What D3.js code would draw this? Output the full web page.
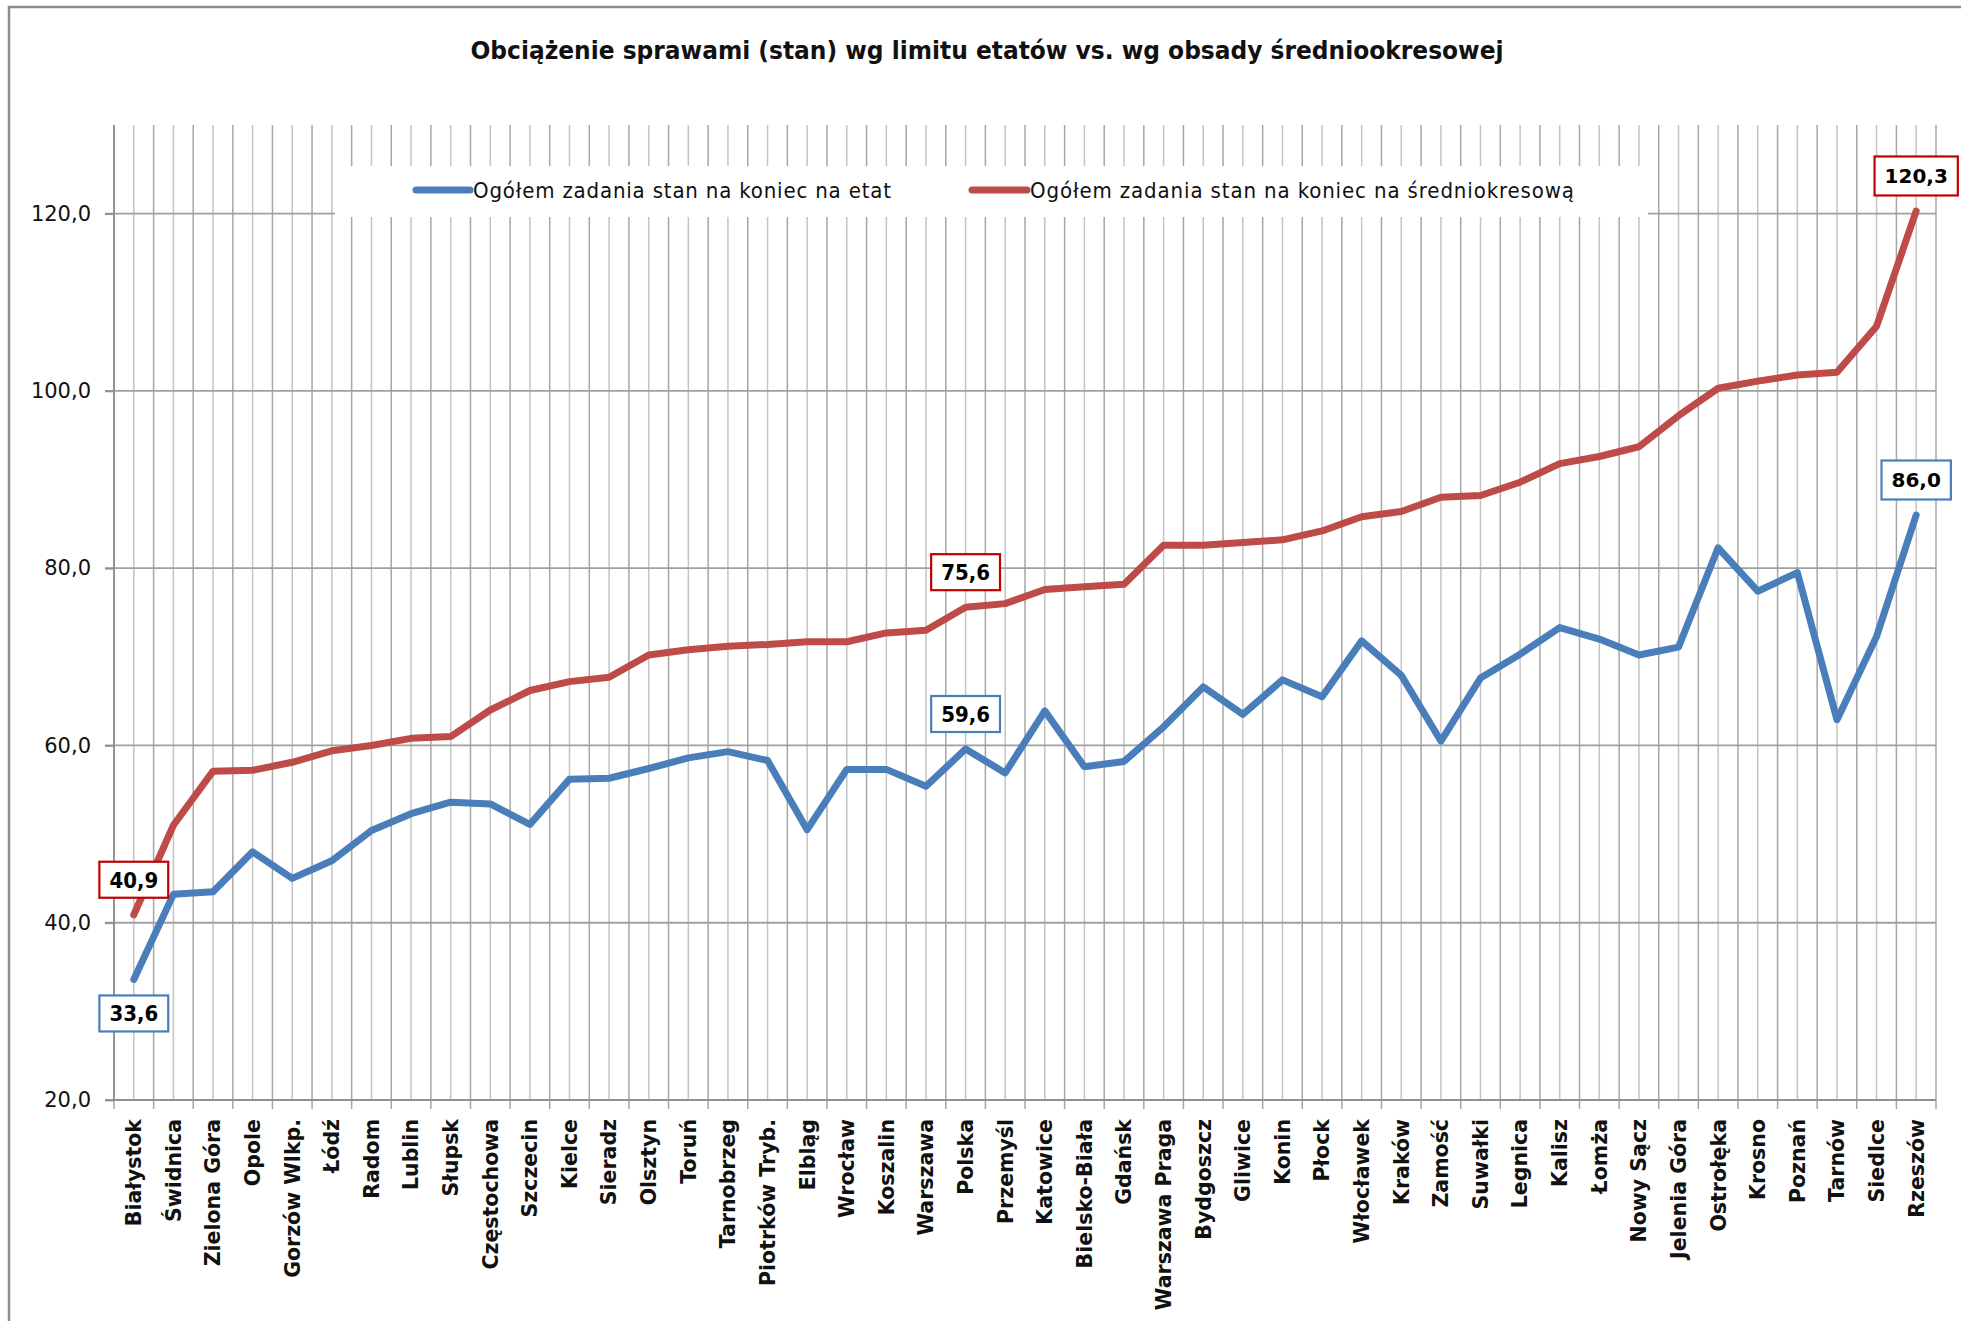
<!DOCTYPE html>
<html>
<head>
<meta charset="utf-8">
<script src="https://cdnjs.cloudflare.com/ajax/libs/d3/7.8.5/d3.min.js"></script>
<style>
  html, body { margin: 0; padding: 0; background: #fff; }
  svg { display: block; }
</style>
</head>
<body>
<svg id="chart" width="1961" height="1321"></svg>
<script>
const title = "Obciążenie sprawami (stan) wg limitu etatów vs. wg obsady średniookresowej";

const categories = [
  "Białystok", "Świdnica", "Zielona Góra", "Opole", "Gorzów Wlkp.", "Łódź", "Radom", "Lublin",
  "Słupsk", "Częstochowa", "Szczecin", "Kielce", "Sieradz", "Olsztyn", "Toruń", "Tarnobrzeg",
  "Piotrków Tryb.", "Elbląg", "Wrocław", "Koszalin", "Warszawa", "Polska", "Przemyśl", "Katowice",
  "Bielsko-Biała", "Gdańsk", "Warszawa Praga", "Bydgoszcz", "Gliwice", "Konin", "Płock", "Włocławek",
  "Kraków", "Zamość", "Suwałki", "Legnica", "Kalisz", "Łomża", "Nowy Sącz", "Jelenia Góra",
  "Ostrołęka", "Krosno", "Poznań", "Tarnów", "Siedlce", "Rzeszów"
];

const seriesNames = [
  "Ogółem zadania stan na koniec na etat",
  "Ogółem zadania stan na koniec na średniokresową"
];

const etatValues = [
  33.6, 43.2, 43.5, 48.0, 45.0, 47.0, 50.4, 52.3,
  53.6, 53.4, 51.1, 56.2, 56.3, 57.4, 58.6, 59.3,
  58.3, 50.5, 57.3, 57.3, 55.4, 59.6, 56.9, 63.9,
  57.6, 58.2, 62.1, 66.6, 63.5, 67.4, 65.5, 71.8,
  67.9, 60.5, 67.6, 70.3, 73.3, 72.0, 70.2, 71.1,
  82.3, 77.4, 79.5, 62.9, 72.3, 86.0
];

const sredniValues = [
  40.9, 51.0, 57.1, 57.2, 58.1, 59.4, 60.0, 60.8,
  61.0, 64.0, 66.2, 67.2, 67.7, 70.2, 70.8, 71.2,
  71.4, 71.7, 71.7, 72.7, 73.0, 75.6, 76.0, 77.6,
  77.9, 78.2, 82.6, 82.6, 82.9, 83.2, 84.2, 85.8,
  86.4, 88.0, 88.2, 89.7, 91.8, 92.6, 93.7, 97.2,
  100.3, 101.1, 101.8, 102.1, 107.3, 120.3
];

const yTicks = [20, 40, 60, 80, 100, 120];
const yDomain = [20, 130];

// which points carry a value label (series index, category index, side)
const labelledPoints = [
  { s: 1, i: 0, side: "above" },
  { s: 0, i: 0, side: "below" },
  { s: 1, i: 21, side: "above" },
  { s: 0, i: 21, side: "above" },
  { s: 1, i: 45, side: "above" },
  { s: 0, i: 45, side: "above" }
];

const seriesValues = [etatValues, sredniValues];
const lineColors = ["#4a7ebb", "#be4b48"];
const boxColors = ["#4a7ebb", "#c00000"];

const svg = d3.select("#chart");
const W = 1961, H = 1321;
const plot = { left: 114, right: 1936, top: 125, bottom: 1100 };

const fmt = v => v.toFixed(1).replace(".", ",");

// outer chart frame
svg.append("rect").attr("x", 0).attr("y", 0).attr("width", W).attr("height", H).attr("fill", "#fff");
svg.append("rect").attr("x", 9).attr("y", 7).attr("width", W + 20).attr("height", H + 20)
  .attr("fill", "none").attr("stroke", "#8c8c8c").attr("stroke-width", 2.5);

const x = d3.scaleBand().domain(categories).range([plot.left, plot.right]).paddingInner(0).paddingOuter(0);
const y = d3.scaleLinear().domain(yDomain).range([plot.bottom, plot.top]);
const cx = c => x(c) + x.bandwidth() / 2;

const grid = svg.append("g");
// vertical minor gridlines (category centers)
grid.selectAll("line.vminor").data(categories).join("line")
  .attr("x1", d => cx(d)).attr("x2", d => cx(d))
  .attr("y1", plot.top).attr("y2", plot.bottom)
  .attr("stroke", "#c4c4c4").attr("stroke-width", 1.5);
// vertical major gridlines (category boundaries)
const bounds = categories.map(c => x(c)).concat([x.range()[1]]);
grid.selectAll("line.vmajor").data(bounds).join("line")
  .attr("x1", d => d).attr("x2", d => d)
  .attr("y1", plot.top).attr("y2", plot.bottom + 9)
  .attr("stroke", "#a6a6a6").attr("stroke-width", 1.5);
// horizontal gridlines
grid.selectAll("line.h").data(yTicks).join("line")
  .attr("x1", plot.left - 9).attr("x2", plot.right)
  .attr("y1", d => y(d)).attr("y2", d => y(d))
  .attr("stroke", "#a0a0a0").attr("stroke-width", 1.8);

// Y axis
const yAxis = svg.append("g").attr("transform", `translate(${plot.left},0)`)
  .call(d3.axisLeft(y).tickValues(yTicks).tickFormat(fmt).tickSize(9).tickPadding(14));
yAxis.select(".domain").attr("stroke", "#909090").attr("stroke-width", 1.8);
yAxis.selectAll(".tick line").attr("stroke", "#909090").attr("stroke-width", 1.8);
yAxis.selectAll(".tick text").attr("font-family", "'DejaVu Sans', Verdana, sans-serif")
  .attr("font-size", 21).attr("fill", "#111");
yAxis.select(".domain").attr("d", `M0,${plot.top}V${plot.bottom}`);

// X axis
const xAxis = svg.append("g").attr("transform", `translate(0,${plot.bottom})`)
  .call(d3.axisBottom(x).tickSize(0).tickPadding(0));
xAxis.select(".domain").attr("stroke", "#909090").attr("stroke-width", 1.8)
  .attr("d", `M${plot.left},0H${plot.right}`);
xAxis.selectAll(".tick text")
  .attr("font-family", "'DejaVu Sans', Verdana, sans-serif")
  .attr("font-size", 20.5).attr("font-weight", "bold").attr("fill", "#111")
  .attr("text-anchor", "end")
  .attr("transform", "rotate(-90)")
  .attr("x", -19).attr("y", 0).attr("dy", "0.36em");

// Lines
const line = d3.line().x((d, i) => cx(categories[i])).y(d => y(d));
seriesValues.forEach((vals, s) => {
  svg.append("path").datum(vals)
    .attr("d", line)
    .attr("fill", "none")
    .attr("stroke", lineColors[s])
    .attr("stroke-width", 7)
    .attr("stroke-linejoin", "round")
    .attr("stroke-linecap", "round");
});

// Legend
const lg = svg.append("g");
lg.append("rect").attr("x", 335).attr("y", 166).attr("width", 1313).attr("height", 51).attr("fill", "#fff");
const legendItems = [
  { s: 0, x0: 416, x1: 470, tx: 473, tlen: 418 },
  { s: 1, x0: 972, x1: 1027, tx: 1030, tlen: 544 }
];
legendItems.forEach(it => {
  lg.append("line").attr("x1", it.x0).attr("x2", it.x1).attr("y1", 190).attr("y2", 190)
    .attr("stroke", lineColors[it.s]).attr("stroke-width", 7).attr("stroke-linecap", "round");
  lg.append("text").attr("x", it.tx).attr("y", 190).attr("dy", "0.36em")
    .attr("font-family", "'DejaVu Sans Condensed', 'DejaVu Sans', sans-serif")
    .style("font-stretch", "condensed")
    .attr("font-size", 22).attr("fill", "#111")
    .attr("textLength", it.tlen).attr("lengthAdjust", "spacing")
    .text(seriesNames[it.s]);
});

// Title
svg.append("text").attr("x", 987).attr("y", 50).attr("dy", "0.36em")
  .attr("text-anchor", "middle")
  .attr("font-family", "'DejaVu Sans Condensed', 'DejaVu Sans', sans-serif")
  .style("font-stretch", "condensed")
  .attr("font-weight", "bold").attr("font-size", 24).attr("fill", "#111")
  .attr("textLength", 1033).attr("lengthAdjust", "spacingAndGlyphs")
  .text(title);

// Data labels
labelledPoints.forEach(lp => {
  const v = seriesValues[lp.s][lp.i];
  const px = cx(categories[lp.i]);
  const py = y(v);
  const cyL = lp.side === "above" ? py - 35 : py + 34;
  const wide = lp.i === categories.length - 1;
  const g = svg.append("g");
  const rect = g.append("rect");
  const t = g.append("text").attr("x", px).attr("y", cyL).attr("dy", "0.36em")
    .attr("text-anchor", "middle")
    .attr("font-family", wide ? "'DejaVu Sans', sans-serif" : "'DejaVu Sans Condensed', 'DejaVu Sans', sans-serif")
    .style("font-stretch", wide ? "normal" : "condensed")
    .attr("font-weight", "bold")
    .attr("font-size", wide ? 20 : 22).attr("fill", "#000")
    .text(fmt(v));
  const bb = t.node().getBBox();
  const bw = bb.width + 20, bh = wide ? 39 : 36;
  rect.attr("x", px - bw / 2).attr("y", cyL - bh / 2).attr("width", bw).attr("height", bh)
    .attr("fill", "#fff").attr("stroke", boxColors[lp.s]).attr("stroke-width", 2.2);
});
</script>
</body>
</html>
